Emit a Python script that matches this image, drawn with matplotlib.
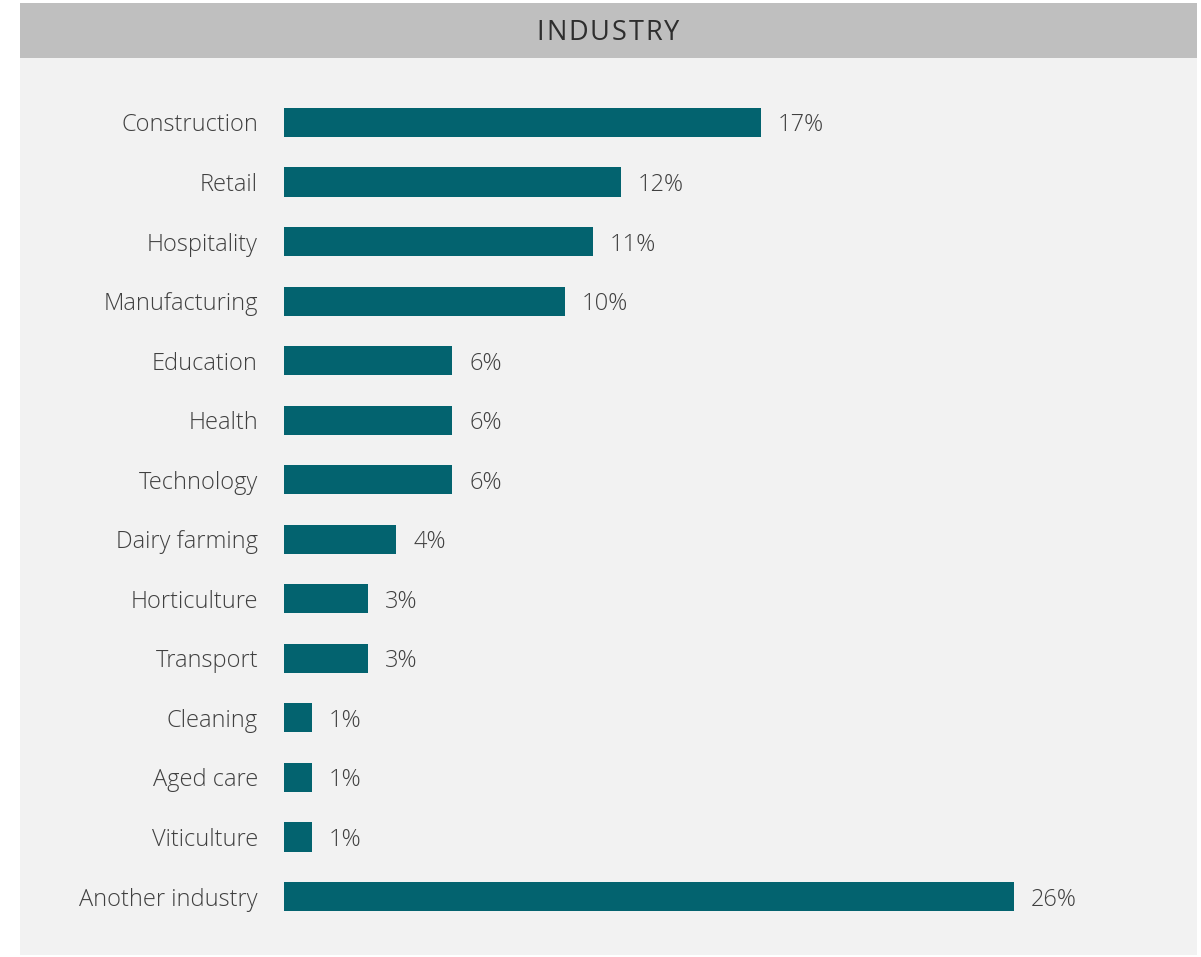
import matplotlib
matplotlib.use("Agg")
import matplotlib.pyplot as plt
from matplotlib.patches import Rectangle

# Share of respondents by industry (%)
industries = [
    "Construction", "Retail", "Hospitality", "Manufacturing", "Education",
    "Health", "Technology", "Dairy farming", "Horticulture", "Transport",
    "Cleaning", "Aged care", "Viticulture", "Another industry",
]
shares = [17, 12, 11, 10, 6, 6, 6, 4, 3, 3, 1, 1, 1, 26]
title = "INDUSTRY"

BAR_COLOR = "#03636f"
HEADER_COLOR = "#bfbfbf"
PANEL_COLOR = "#f2f2f2"
TEXT_COLOR = "#404040"
FONT = ["Open Sans", "DejaVu Sans"]
LABEL_SIZE = 17

W, H = 1201, 957
fig = plt.figure(figsize=(W / 100, H / 100), dpi=100)
fig.patch.set_facecolor("white")

def fx(px):
    return px / W

def fy(py):
    return 1 - py / H

# Panel background and header band (behind the axes)
fig.patches.append(Rectangle((fx(20), fy(955)), fx(1197) - fx(20), fy(58) - fy(955),
                             transform=fig.transFigure, facecolor=PANEL_COLOR,
                             edgecolor="none", zorder=-2))
fig.patches.append(Rectangle((fx(20), fy(58)), fx(1197) - fx(20), fy(3) - fy(58),
                             transform=fig.transFigure, facecolor=HEADER_COLOR,
                             edgecolor="none", zorder=-2))

# Letter-spaced header title
fig.canvas.draw()
renderer = fig.canvas.get_renderer()
tracking = 2.0  # extra pixels between letters
widths = []
for ch in title:
    t = fig.text(0, 0, ch, fontsize=19.5, family=FONT)
    widths.append(t.get_window_extent(renderer).width)
    t.remove()
total = sum(widths) + tracking * (len(title) - 1)
cursor = 608 - total / 2
for ch, w in zip(title, widths):
    fig.text(fx(cursor), fy(33), ch, ha="left", va="center", fontsize=19.5,
             color="#2e2e2e", family=FONT)
    cursor += w + tracking

# Plot area: bars start at x=284 px, ~28.06 px per percentage point
x0, x1 = 284, 1190
px_per_unit = 28.06
top_px, bot_px = 63, 955
first_c, step = 122.5, 59.54
ax = fig.add_axes([fx(x0), fy(bot_px), fx(x1) - fx(x0), fy(top_px) - fy(bot_px)])
ax.set_facecolor("none")
ax.set_xlim(0, (x1 - x0) / px_per_unit)
ax.set_ylim(len(industries) - 1 + (bot_px - (first_c + step * (len(industries) - 1))) / step,
            -(first_c - top_px) / step)

ypos = list(range(len(industries)))
ax.barh(ypos, shares, height=0.49, color=BAR_COLOR, edgecolor="none")

for y, v in zip(ypos, shares):
    ax.annotate(f"{v}%", (v, y), xytext=(17, -3), textcoords="offset pixels",
                ha="left", va="center", fontsize=LABEL_SIZE, color=TEXT_COLOR,
                family=FONT, fontweight="light")

ax.set_yticks(ypos)
ax.set_yticklabels(industries, fontsize=LABEL_SIZE, color=TEXT_COLOR, family=FONT,
                   fontweight="light")
ax.tick_params(axis="y", length=0, pad=26 * 0.72)
ax.set_xticks([])
for s in ax.spines.values():
    s.set_visible(False)

fig.savefig("out.png", dpi=100, facecolor=fig.get_facecolor())
